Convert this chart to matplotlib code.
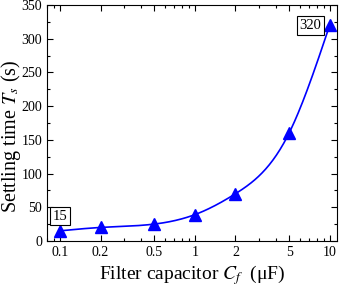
import numpy as np
import matplotlib
matplotlib.use("Agg")
import matplotlib.pyplot as plt
from matplotlib.ticker import FixedLocator, FixedFormatter, LogLocator, MultipleLocator, NullFormatter

capacitance = [0.1, 0.2, 0.5, 1, 2, 5, 10]
settling_time = [15, 20, 25, 39, 70, 160, 320]
xtick_labels = ["0.1", "0.2", "0.5", "1", "2", "5", "10"]

plt.rcParams['font.family'] = ['Liberation Serif', 'DejaVu Serif']
plt.rcParams['mathtext.fontset'] = 'stix'


def natural_spline(x, y, xs):
    x = np.asarray(x, float); y = np.asarray(y, float)
    n = len(x)
    h = np.diff(x)
    A = np.zeros((n, n)); r = np.zeros(n)
    A[0, 0] = A[-1, -1] = 1
    for i in range(1, n - 1):
        A[i, i - 1] = h[i - 1]
        A[i, i] = 2 * (h[i - 1] + h[i])
        A[i, i + 1] = h[i]
        r[i] = 3 * ((y[i + 1] - y[i]) / h[i] - (y[i] - y[i - 1]) / h[i - 1])
    c = np.linalg.solve(A, r)
    out = np.empty_like(xs)
    for k, v in enumerate(xs):
        i = min(max(np.searchsorted(x, v) - 1, 0), n - 2)
        b = (y[i + 1] - y[i]) / h[i] - h[i] * (2 * c[i] + c[i + 1]) / 3
        d = (c[i + 1] - c[i]) / (3 * h[i])
        t = v - x[i]
        out[k] = y[i] + b * t + c[i] * t ** 2 + d * t ** 3
    return out


fig = plt.figure(figsize=(3.42, 2.91), dpi=100)
ax = fig.add_axes([0.137, 0.172, 0.848, 0.811])

lx = np.log10(capacitance)
xs = np.linspace(lx[0], lx[-1], 300)
ys = natural_spline(lx, settling_time, xs)
ax.plot(10 ** xs, ys, color='#0000FF', lw=1.2, zorder=2)
ax.plot(capacitance, settling_time, linestyle='none', marker='^', markersize=8,
        color='#0000FF', zorder=3)

ax.set_xscale('log')
ax.set_xlim(0.08, 11.3)
ax.set_ylim(0, 350)
ax.xaxis.set_major_locator(FixedLocator(capacitance))
ax.xaxis.set_major_formatter(FixedFormatter(xtick_labels))
ax.xaxis.set_minor_locator(LogLocator(base=10, subs=np.arange(1, 10)))
ax.xaxis.set_minor_formatter(NullFormatter())
ax.yaxis.set_major_locator(MultipleLocator(50))
ax.yaxis.set_minor_locator(MultipleLocator(25))

ax.tick_params(which='both', direction='in', top=True, right=True, labelsize=10, width=0.8)
ax.tick_params(which='major', length=4)
ax.tick_params(which='minor', length=2.5)
for s in ax.spines.values():
    s.set_linewidth(0.8)

ax.set_xlabel('Filter capacitor $C_f$  (\u03bcF)', fontsize=14, va='center')
ax.set_ylabel('Settling time $T_s$ (s)', fontsize=14.5, va='center')
ax.xaxis.set_label_coords(0.5, -0.145)
ax.yaxis.set_label_coords(-0.125, 0.445)

bbox = dict(boxstyle='square,pad=0.2', fc='white', ec='black', lw=0.8)
ax.annotate(str(settling_time[0]), (capacitance[0], settling_time[0]), xytext=(0, 6),
            textcoords='offset points', ha='center', va='bottom', fontsize=10.5, bbox=bbox)
ax.annotate(str(settling_time[-1]), (capacitance[-1], settling_time[-1]), xytext=(-6, 0),
            textcoords='offset points', ha='right', va='center', fontsize=10.5, bbox=bbox)

fig.savefig('out.png', dpi=100)
